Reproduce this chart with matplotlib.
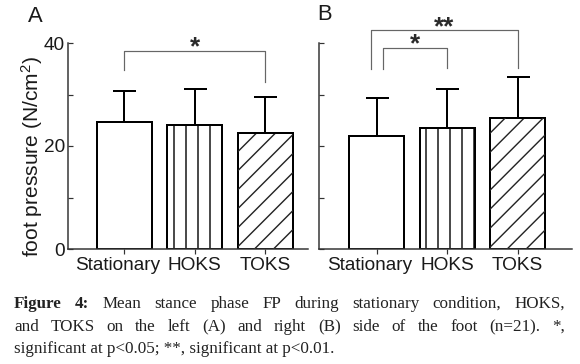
import matplotlib
matplotlib.use("Agg")
import matplotlib.pyplot as plt
from matplotlib.lines import Line2D
from matplotlib.transforms import IdentityTransform, ScaledTranslation
import numpy as np

plt.rcParams['font.family'] = ['Liberation Sans', 'DejaVu Sans']
plt.rcParams['mathtext.default'] = 'regular'

conditions = ['Stationary', 'HOKS', 'TOKS']
hatches = ['', '|', 'diag']

# foot pressure, N/cm^2 (mean and SD)
left_mean = [24.7, 24.0, 22.5]
left_sd = [6.0, 7.0, 7.1]
right_mean = [21.9, 23.4, 25.4]
right_sd = [7.5, 7.7, 8.0]

# significance brackets: (x from, x to, top, left leg end, right leg end, label, label height)
left_sig = [(0.0, 2.0, 38.4, 34.8, 32.4, '*', 37.8)]
right_sig = [(-0.08, 2.0, 42.5, 34.9, 35.1, '**', 41.6),
             (0.09, 1.0, 39.0, 34.9, 35.1, '*', 38.3)]

W, H = 580, 364
fig = plt.figure(figsize=(W / 72, H / 72), dpi=72)
axA = fig.add_axes([68 / W, 1 - 249 / H, 240 / W, 206 / H])
axB = fig.add_axes([319 / W, 1 - 249 / H, 253 / W, 206 / H])

ink = '#1a1a1a'
plt.rcParams['hatch.linewidth'] = 1.4


def diag_hatch(ax, bar, step=19):
    bb = bar.get_window_extent()
    x0, y0, x1, y1 = bb.x0, bb.y0, bb.x1, bb.y1
    for c in np.arange(y0 - x1, y1 - x0, step):
        ln = Line2D([x0, x1], [x0 + c, x1 + c], transform=IdentityTransform(),
                    color='#222222', lw=1.4, zorder=2.5)
        ax.add_artist(ln)
        ln.set_clip_path(bar)


def panel(ax, means, sds, sigs, xlim, show_labels):
    x = np.arange(len(conditions))
    ax.set_xlim(*xlim)
    ax.set_ylim(0, 40)
    bars = ax.bar(x, means, width=0.78, color='white', edgecolor='black',
                  linewidth=2, zorder=2)
    for b, h in zip(bars, hatches):
        if h == '|':
            b.set_hatch('|')
        elif h == 'diag':
            diag_hatch(ax, b)
    ax.errorbar(x, means, yerr=[np.zeros(len(sds)), sds], fmt='none',
                ecolor='black', elinewidth=2, capsize=11.5, capthick=2, zorder=3)

    for xa, xb, top, la, lb, lab, ly in sigs:
        ax.plot([xa, xa, xb, xb], [la, top, top, lb], color='#666666', lw=1.2,
                clip_on=False)
        ax.text((xa + xb) / 2, ly, lab, ha='center', va='baseline',
                fontsize=26, fontweight='bold', color='#2a2a2a', clip_on=False)

    for s in ['top', 'right']:
        ax.spines[s].set_visible(False)
    for s in ['left', 'bottom']:
        ax.spines[s].set_color('#333333')
        ax.spines[s].set_linewidth(1.5)
    ax.set_xticks(x)
    ax.set_xticklabels(conditions)
    ax.set_yticks([0, 20, 40])
    ax.set_yticks([10, 30], minor=True)
    ax.tick_params(axis='x', direction='out', length=5, width=1.2, pad=3,
                   labelsize=19, colors='#333333', labelcolor=ink)
    ax.tick_params(axis='y', which='both', direction='in', length=5, width=1.2,
                   pad=3, labelsize=19, colors='#333333', labelcolor=ink)
    if not show_labels:
        ax.tick_params(axis='y', labelleft=False)
    # the first category label sits a little left of its tick in the original
    lab0 = ax.get_xticklabels()[0]
    lab0.set_transform(lab0.get_transform() + ScaledTranslation(-7 / 72, 0, fig.dpi_scale_trans))


panel(axA, left_mean, left_sd, left_sig, (-0.8, 2.61), True)
panel(axB, right_mean, right_sd, right_sig, (-0.816, 2.77), False)

axA.set_ylabel('foot pressure (N/cm$^{2}$)', fontsize=21, color=ink)
axA.yaxis.set_label_coords(-0.097, 0.45)

fig.text(28 / W, 1 - 22 / H, 'A', fontsize=22, color=ink, va='baseline')
fig.text(317 / W, 1 - 20 / H, 'B', fontsize=22, color=ink, va='baseline')

# caption
cap_lines = [
    (['Figure', '4:'], 'Mean stance phase FP during stationary condition, HOKS,', True),
    ([], 'and TOKS on the left (A) and right (B) side of the foot (n=21). *,', True),
    ([], 'significant at p<0.05; **, significant at p<0.01.', False),
]
cap_base = [308, 331, 353]
cap_x0, cap_x1 = 14, 565
cap_kw = dict(fontsize=17, family='Liberation Serif', color='#222222', va='baseline')
renderer = fig.canvas.get_renderer()
for (bold_words, rest, justify), yb in zip(cap_lines, cap_base):
    yf = 1 - yb / H
    if not justify:
        fig.text(cap_x0 / W, yf, rest, **cap_kw)
        continue
    words = [(w, 'bold') for w in bold_words] + [(w, 'normal') for w in rest.split()]
    texts = [fig.text(0, yf, w, fontweight=fw, **cap_kw) for w, fw in words]
    widths = [t.get_window_extent(renderer).width for t in texts]
    gap = (cap_x1 - cap_x0 - sum(widths)) / (len(texts) - 1)
    xp = cap_x0
    for t, wd in zip(texts, widths):
        t.set_x(xp / W)
        xp += wd + gap

fig.savefig('out.png', dpi=72)
